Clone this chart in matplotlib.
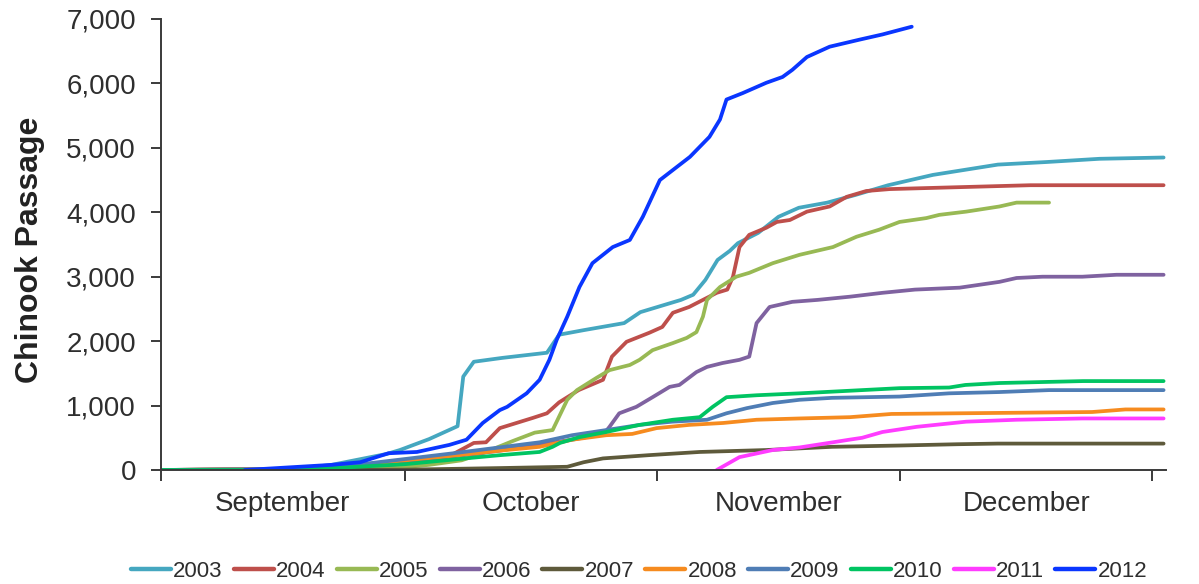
import matplotlib

matplotlib.use("Agg")
import matplotlib.pyplot as plt
from matplotlib.ticker import FuncFormatter, FixedLocator

plt.rcParams["font.family"] = ["Liberation Sans", "DejaVu Sans"]

# x values are days since 1 September
years = ["2003", "2004", "2005", "2006", "2007", "2008", "2009", "2010", "2011", "2012"]

days_2003 = [0, 17, 21, 27.8, 29.4, 33, 36.5, 37.2, 38.5, 42, 47.5, 49, 52, 57, 59, 64, 65.5, 67, 68.5,
             70, 71, 73.5, 76, 78.5, 82, 85.5, 89.5, 95, 103, 109, 115.5, 123.4]
vals_2003 = [0, 20, 80, 250, 310, 480, 680, 1450, 1680, 1740, 1820, 2100, 2170, 2280, 2450, 2640, 2720,
             2950, 3260, 3400, 3520, 3680, 3930, 4070, 4150, 4270, 4420, 4580, 4740, 4780, 4830, 4850]

days_2004 = [0, 25, 30, 33, 36, 38.5, 40, 41.7, 45.8, 47.5, 49, 51.4, 54.4, 55.5, 57.3, 60.1, 61.7, 63,
             65, 66.7, 68.4, 69.7, 70.4, 71.2, 72.4, 74.5, 75.8, 77.4, 79.5, 82.3, 84.4, 86.8, 89.7,
             98.3, 107, 123.4]
vals_2004 = [0, 30, 80, 110, 250, 420, 430, 650, 810, 880, 1050, 1240, 1400, 1760, 1990, 2130, 2220,
             2440, 2530, 2640, 2750, 2800, 3000, 3460, 3650, 3760, 3850, 3880, 4010, 4090, 4240, 4330,
             4360, 4390, 4420, 4420]

days_2005 = [0, 28, 33, 37, 40, 43.3, 46, 48.2, 50, 51.2, 53.6, 55.2, 57.7, 58.9, 60.5, 63, 64.7, 65.9,
             66.7, 67.2, 68.8, 70.8, 72.4, 75.3, 78.6, 82.7, 85.6, 88.4, 90.9, 94.2, 95.8, 99.1, 103.2,
             105.3, 109.3]
vals_2005 = [0, 20, 80, 150, 280, 450, 580, 620, 1090, 1240, 1430, 1550, 1630, 1710, 1860, 1970, 2050,
             2140, 2380, 2640, 2840, 3000, 3060, 3210, 3340, 3460, 3620, 3730, 3850, 3910, 3960, 4010,
             4090, 4150, 4150]

days_2006 = [0, 20, 30, 36.6, 41.7, 46.6, 50.6, 54.5, 55.2, 56.4, 58.5, 60.5, 62.6, 63.8, 65.9, 67.2,
             69.1, 71.2, 72.4, 73.3, 74.9, 77.7, 80.8, 84.8, 88.8, 92.8, 98.3, 103.2, 105.3, 108.5,
             113.4, 117.6, 123.4]
vals_2006 = [0, 10, 130, 220, 300, 400, 470, 560, 670, 880, 980, 1130, 1290, 1320, 1520, 1600, 1660,
             1710, 1760, 2280, 2530, 2610, 2640, 2690, 2750, 2800, 2830, 2920, 2980, 3000, 3000, 3030,
             3030]

days_2007 = [0, 30, 41.7, 50, 52, 54.4, 60, 66.3, 74.5, 82.6, 90.9, 98, 103, 123.4]
vals_2007 = [0, 5, 30, 50, 120, 180, 230, 280, 310, 360, 380, 400, 410, 410]

days_2008 = [0, 20, 30, 36.6, 41.7, 46.6, 50.6, 54.8, 58, 61, 65, 69.2, 73.3, 78.6, 84.8, 89.9, 98.1,
             106.4, 114.6, 118.7, 123.4]
vals_2008 = [0, 20, 150, 230, 300, 360, 470, 540, 560, 650, 700, 730, 780, 800, 820, 870, 880, 890,
             900, 940, 940]

days_2009 = [0, 20, 30, 36, 41, 46.6, 50.6, 54.8, 58.9, 62.9, 67.2, 69.6, 72.1, 75.3, 78.6, 82.6, 90.9,
             97, 103.2, 109.3, 123.4]
vals_2009 = [0, 20, 170, 260, 340, 430, 540, 620, 700, 750, 780, 880, 960, 1040, 1090, 1120, 1140,
             1190, 1210, 1240, 1240]

days_2010 = [0, 17, 30, 36.6, 41.7, 46.6, 48.2, 49.1, 51.5, 54.8, 58.9, 63, 66.3, 67.9, 69.6, 73.3,
             78.6, 90.9, 97, 99, 103.2, 113.5, 123.4]
vals_2010 = [0, 0, 90, 170, 230, 280, 360, 420, 510, 590, 700, 780, 820, 980, 1130, 1160, 1190, 1270,
             1280, 1320, 1350, 1380, 1380]

days_2011 = [68.4, 71.2, 75.3, 78.6, 82.7, 84.7, 86.3, 88.8, 93, 99.1, 105.3, 113.4, 123.4]
vals_2011 = [0, 200, 310, 350, 430, 470, 500, 590, 670, 750, 780, 800, 800]

days_2012 = [10.3, 21, 24.5, 28, 31.5, 35.5, 37.6, 39.6, 41.7, 42.6, 45, 46.6, 47.8, 48.7, 50, 51.5,
             53.1, 55.6, 57.7, 59.3, 61.4, 65.1, 67.5, 68.8, 69.6, 71.6, 74.5, 76.5, 77.7, 79.5, 82.3,
             86, 88.8, 92.4]
vals_2012 = [0, 80, 120, 260, 280, 390, 470, 730, 930, 980, 1190, 1400, 1710, 2020, 2380, 2840, 3210,
             3460, 3570, 3930, 4500, 4860, 5170, 5440, 5750, 5850, 6010, 6100, 6210, 6410, 6570, 6680,
             6760, 6880]

colors = ["#45A7C0", "#BE4F4B", "#98B954", "#7F62A0", "#5E5A3B",
          "#F68B1F", "#4F7DB5", "#00C462", "#FF3CFF", "#0A36FF"]

month_edges = [0, 30, 61, 91, 122]
month_mid = [15, 45.5, 76, 106.5]
month_names = ["September", "October", "November", "December"]
y_ticks = [0, 1000, 2000, 3000, 4000, 5000, 6000, 7000]

series = [
    (days_2003, vals_2003), (days_2004, vals_2004), (days_2005, vals_2005),
    (days_2006, vals_2006), (days_2007, vals_2007), (days_2008, vals_2008),
    (days_2009, vals_2009), (days_2010, vals_2010), (days_2011, vals_2011),
    (days_2012, vals_2012),
]

INK = "#2e2e2e"

fig = plt.figure(figsize=(11.99, 5.84), dpi=100)
ax = fig.add_axes([0.1343, 0.1952, 0.8382, 0.7723])

for (d, v), yr, c in zip(series, years, colors):
    ax.plot(d, v, color=c, lw=2.7, label=yr, solid_joinstyle="round", solid_capstyle="round")

ax.set_xlim(0, 123.7)
ax.set_ylim(0, 7000)

ax.spines["top"].set_visible(False)
ax.spines["right"].set_visible(False)
for s in ("left", "bottom"):
    ax.spines[s].set_color("#3a3a3a")
    ax.spines[s].set_linewidth(1.4)

ax.set_yticks(y_ticks)
ax.yaxis.set_major_formatter(FuncFormatter(lambda v, p: f"{int(v):,}"))
ax.tick_params(axis="y", direction="out", length=7, width=1.4, color="#3a3a3a",
               labelsize=20, labelcolor=INK, pad=11)

ax.xaxis.set_major_locator(FixedLocator(month_edges))
ax.xaxis.set_minor_locator(FixedLocator(month_mid))
ax.xaxis.set_major_formatter(FuncFormatter(lambda v, p: ""))
ax.xaxis.set_minor_formatter(FuncFormatter(
    lambda v, p: month_names[month_mid.index(v)] if v in month_mid else ""))
ax.tick_params(axis="x", which="major", direction="out", length=8, width=1.4, color="#3a3a3a")
ax.tick_params(axis="x", which="minor", length=0, labelsize=20, labelcolor=INK, pad=15)

fig.text(30 / 1199, 0.572, "Chinook Passage", rotation=90, ha="center", va="center",
         fontsize=23, fontweight="bold", color="#222222")

leg = fig.legend(loc="center", bbox_to_anchor=(0.533, 0.021), ncol=10, frameon=False,
                 fontsize=16, handlelength=1.8, handletextpad=0.1, columnspacing=0.5,
                 labelcolor=INK)
for h in leg.get_lines():
    h.set_linewidth(3.2)

fig.savefig("out.png", dpi=100)
